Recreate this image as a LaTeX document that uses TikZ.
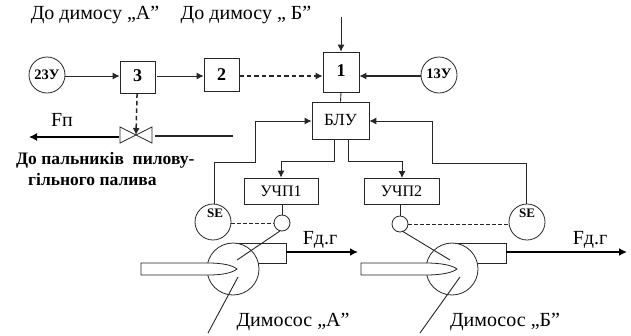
\documentclass[tikz,border=0pt]{standalone}
\usepackage{fontspec}
\setmainfont{Liberation Serif}
\usetikzlibrary{arrows.meta}
\tikzset{
 x=1pt,y=-1pt,
 ln/.style={draw=black!85,line width=0.9pt},
 arr/.style={ln,-{Latex[length=7pt,width=7pt]}},
 thick arr/.style={draw=black,line width=1.6pt,-{Latex[length=8pt,width=8pt]}},
 dash ln/.style={ln,line width=1.1pt,dash pattern=on 4.5pt off 3pt},
 thin dash/.style={ln,dash pattern=on 3.5pt off 2.5pt},
 blockbox/.style={draw=black!85,line width=0.8pt,fill=white,inner sep=0pt,font=\bfseries\fontsize{18}{18}\selectfont},
 unitbox/.style={draw=black!85,line width=0.8pt,fill=white,inner sep=0pt,font=\fontsize{16}{16}\selectfont},
 ring/.style={circle,draw=black!85,line width=0.8pt,fill=white,inner sep=0pt,minimum size=36pt,font=\bfseries\fontsize{14.5}{14.5}\selectfont},
 small ring/.style={circle,draw=black!85,line width=0.8pt,fill=white,inner sep=0pt,minimum size=16pt},
 lbl/.style={inner sep=0pt,font=\fontsize{20}{20}\selectfont},
 big lbl/.style={inner sep=0pt,font=\fontsize{20}{20}\selectfont},
 bold lbl/.style={inner sep=0pt,font=\bfseries\fontsize{17.5}{18}\selectfont},
 part/.style={draw=black!85,line width=0.8pt},
}
\begin{document}
\begin{tikzpicture}
\useasboundingbox (0,0) rectangle (631,335);
% labels
\node[lbl] (ta) at (95,15) {До димосу ,,А”};
\node[lbl] (tb) at (246,15) {До димосу ,, Б”};
\node[lbl] (fp) at (62,120) {Fп};
\node[bold lbl,anchor=west] (d1) at (16,160) {До пальників\ \ пилову-};
\node[bold lbl,anchor=west] (d2) at (28,180) {гільного палива};
% blocks
\node[ring] (zu2) at (47,75) {23У};
\node[ring] (zu1) at (439,75) {\raisebox{3pt}{13У}};
\node[blockbox,minimum width=35pt,minimum height=32pt] (b3) at (137.5,77) {\raisebox{2pt}{3}};
\node[blockbox,minimum width=35pt,minimum height=33pt] (b2) at (221.5,75) {2};
\node[blockbox,minimum width=36pt,minimum height=40pt] (b1) at (341,72) {\raisebox{2pt}{1}};
\node[unitbox,minimum width=57pt,minimum height=37pt,font=\fontsize{17}{17}\selectfont] (blu) at (340.5,120.5) {БЛУ};
\node[unitbox,minimum width=74pt,minimum height=26pt] (u1) at (281,191) {УЧП1};
\node[unitbox,minimum width=75pt,minimum height=26pt] (u2) at (401.5,191) {УЧП2};
\node[ring] (se1) at (213,222) {};
\node[ring] (se2) at (527,222) {};
\node[inner sep=0pt,font=\bfseries\fontsize{13}{13}\selectfont] (set1) at (215,213) {SE};
\node[inner sep=0pt,font=\bfseries\fontsize{13}{13}\selectfont] (set2) at (527,213) {SE};
\node[small ring] (c1) at (282,223) {};
\node[small ring] (c2) at (400,224) {};
% valve
\coordinate (vc) at (136,135);
\draw[part,fill=white] (120,127) -- (152,143) -- (152,127) -- (120,143) -- cycle;
% upper connectors
\coordinate (top) at (341,17);
\coordinate (a3) at (b3.west |- 0,76);
\coordinate (a3r) at (b3.east |- 0,76);
\coordinate (a2) at (b2.west |- 0,76);
\coordinate (a2r) at (b2.east |- 0,76);
\coordinate (a1) at (b1.west |- 0,76);
\coordinate (a1r) at (b1.east |- 0,76);
\coordinate (z2) at (zu2.east |- 0,76);
\coordinate (z1) at (zu1.west |- 0,76);
\draw[arr] (top) -- (b1.north);
\draw[arr] (z2) -- (a3);
\draw[arr] ([xshift=2pt]a3r) -- (a2);
\draw[dash ln,-{Latex[length=7pt,width=7pt]}] (a2r) -- (a1);
\draw[arr,line width=1.1pt] (z1) -- (a1r);
\draw[dash ln,-{Latex[length=7pt,width=7pt]},line width=1.5pt] (b3) -- (vc);
\draw[ln] (b1.south) -- (blu.north);
\coordinate (fl) at (29,137);
\coordinate (vl) at (119,137);
\coordinate (vr) at (155,136);
\coordinate (fr) at (233,136);
\draw[thick arr,line width=1.3pt] (vl) -- (fl);
\draw[ln,line width=1.2pt] (vr) -- (fr);
% BLU loops
\draw[arr] (214,204) -- (214,162) -- (255,162) -- (255,121) -- (blu.west |- 0,121);
\draw[arr] (526,204) -- (526,163) -- (432,163) -- (432,121) -- (blu.east |- 0,121);
\draw[arr] (334,139) -- (334,161) -- (281,161) -- (u1.north);
\draw[arr] (348,139) -- (348,161) -- (402,161) -- (402,178);
\draw[ln] (c1 |- u1.south) -- (c1);
\draw[ln] (c2 |- u2.south) -- (c2);
\draw[thin dash] (se1.east |- c1) -- (c1);
\draw[thin dash] (c2.east) -- (se2.west |- c2);
% fan A
\draw[part] (233,243) rectangle (286,263);
\draw[part,fill=white] (233,269) circle (26);
\draw[part,fill=white] (208,263) -- (141,263) -- (141,275) -- (208,275) .. controls (222,275) and (232,273) .. (237,269) .. controls (232,265) and (222,263) .. (208,263);
\draw[ln] (280,231) -- (237,260);
\draw[ln] (238,277) -- (208,333);
\draw[thick arr] (286,252) -- (358,252);
\node[big lbl] (fa) at (320,240) {Fд.г};
\node[big lbl] (da) at (293,322) {Димосос ,,А”};
% fan B
\draw[part] (452,243) rectangle (506,263);
\draw[part,fill=white] (452,269) circle (26);
\draw[part,fill=white] (426,263) -- (361,263) -- (361,275) -- (426,275) .. controls (440,275) and (452,273) .. (457,269) .. controls (452,265) and (440,263) .. (426,263);
\draw[ln] (402,231) -- (450,260);
\draw[ln] (460,277) -- (420,333);
\draw[thick arr] (506,252) -- (627,252);
\node[big lbl] (fb) at (590,240) {Fд.г};
\node[big lbl] (db) at (505,322) {Димосос ,,Б”};
\end{tikzpicture}
\end{document}
